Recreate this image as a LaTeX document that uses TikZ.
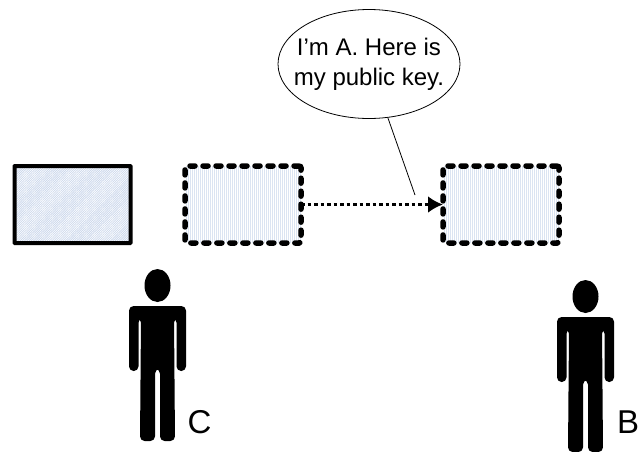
\documentclass[tikz,border=0pt]{standalone}
\usepackage{fontspec}
\setmainfont{Liberation Sans}
\usetikzlibrary{arrows.meta,patterns.meta,shapes.geometric}
\definecolor{keyblue}{RGB}{204,216,236}

\tikzset{
    keybox/.style={%
        rectangle,
        minimum width=116pt,
        minimum height=77pt,
        inner sep=0pt,
        outer sep=0pt,
        line width=4pt,
        rounded corners=0.5pt,
        draw=black
    },
    realkey/.style={keybox, pattern={Lines[angle=45,distance=1.6pt,line width=0.8pt]}, pattern color=keyblue},
    fakekey/.style={keybox, line width=5.5pt, dash pattern=on 5pt off 8pt, line cap=round, rounded corners=2pt,
        preaction={draw=none, pattern={Lines[angle=90,distance=2pt,line width=0.7pt]}, pattern color=keyblue!70}},
    bubble/.style={%
        ellipse,
        draw=black,
        line width=0.8pt,
        minimum width=182pt,
        minimum height=109pt,
        inner xsep=-12pt,
        inner ysep=0pt,
        align=center,
        font=\fontsize{24}{30}\selectfont
    },
    personlabel/.style={font=\fontsize{33}{33}\selectfont},
    person/.pic={%
        \fill (0,16.5) ellipse (13 and 16.5);
        \fill[rounded corners=4.6pt] (-28.5,37) -- (28.5,37) -- (28.5,102) -- (19,102) -- (19,49) -- (16.5,49)
            -- (17.5,172) -- (2.5,172) -- (2.5,100) -- (-2.5,100) -- (-2.5,172) -- (-17.5,172) -- (-16.5,49) -- (-19,49)
            -- (-19,102) -- (-28.5,102) -- cycle;
    }
}

\begin{document}
\begin{tikzpicture}[x=1pt,y=-1pt]
    \useasboundingbox (0,0) rectangle (639,451);

    \node[realkey] (keyC) at (72.5,204.5) {};
    \node[fakekey] (keyA) at (243,204.5) {};
    \node[fakekey] (keyB) at (501,204.5) {};

    \draw[line width=3pt, dash pattern=on 3.8pt off 2.7pt, -{Latex[length=15pt,width=17pt]}] (keyA) -- (keyB);

    \node[bubble] (speech) at (369,64) {I’m A. Here is\\my public key.};
    \coordinate (speechtip) at (415,195);
    \draw[line width=0.8pt] (speech) -- (speechtip);

    \pic (personC) at (157.5,269) {person};
    \pic (personB) at (585.5,280) {person};

    \node[personlabel] (labelC) at (199.5,421.7) {C};
    \node[personlabel] (labelB) at (628,421.7) {B};
\end{tikzpicture}
\end{document}
